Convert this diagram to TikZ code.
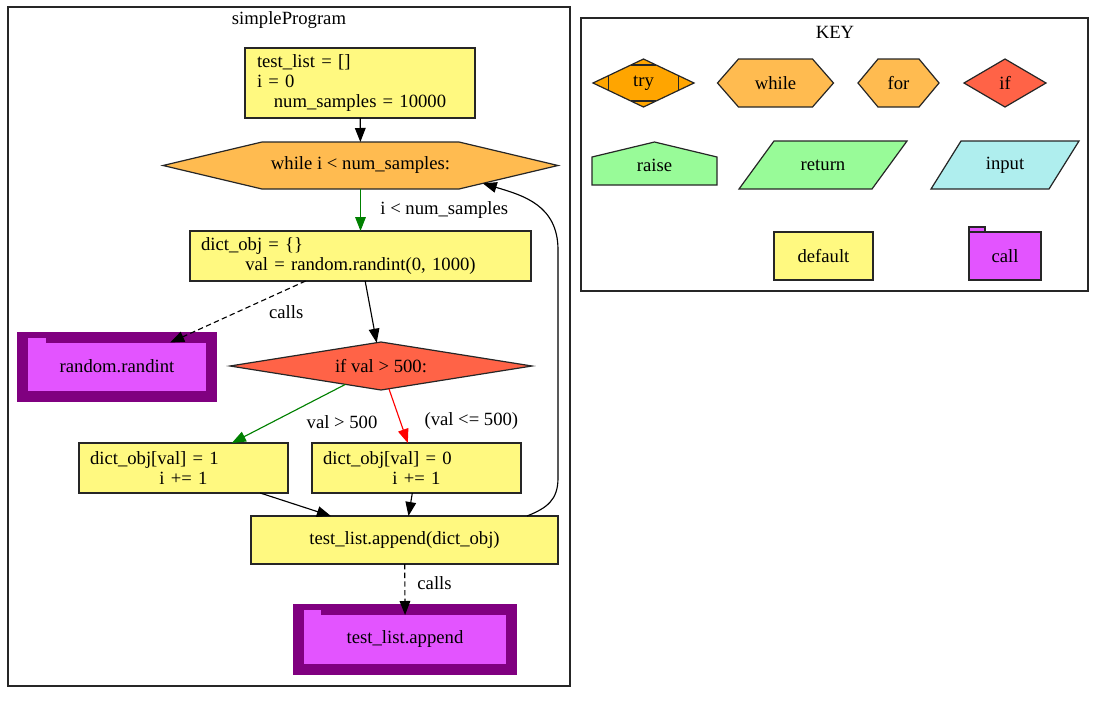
\documentclass[tikz,border=0pt]{standalone}
\usepackage{fontspec}
\setmainfont{Liberation Serif}
\usetikzlibrary{shapes.geometric,arrows.meta,calc,backgrounds}

\definecolor{codeyel}{HTML}{FFF980}
\definecolor{loopor}{HTML}{FFBB50}
\definecolor{tryor}{HTML}{FFA500}
\definecolor{ifred}{HTML}{FF6347}
\definecolor{raisegr}{HTML}{98FB98}
\definecolor{inputbl}{HTML}{AFEEEE}
\definecolor{callmag}{HTML}{E354FF}
\definecolor{callpur}{HTML}{800080}
\definecolor{egreen}{HTML}{008000}
\definecolor{ered}{HTML}{FF0000}

% hexagon drawn behind a plain node: node, inset, fill
\newcommand\hexshape[3]{%
  \begin{scope}[on background layer]
    \filldraw[fill=#3, shapeline] (#1.west) -- ($(#1.north west)+(#2,0)$)
      -- ($(#1.north east)+(-#2,0)$) -- (#1.east)
      -- ($(#1.south east)+(-#2,0)$) coordinate (#1-se)
      -- ($(#1.south west)+(#2,0)$) -- cycle;
  \end{scope}}
% parallelogram behind a plain node: node, slant, fill
\newcommand\parashape[3]{%
  \begin{scope}[on background layer]
    \filldraw[fill=#3, shapeline] (#1.south west) -- ($(#1.north west)+(#2,0)$)
      -- (#1.north east) -- ($(#1.south east)+(-#2,0)$) -- cycle;
  \end{scope}}
% house shape behind a plain node: node, shoulder drop, fill
\newcommand\houseshape[3]{%
  \begin{scope}[on background layer]
    \filldraw[fill=#3, shapeline] (#1.south west) -- ($(#1.north west)+(0,#2)$)
      -- (#1.north) -- ($(#1.north east)+(0,#2)$) -- (#1.south east) -- cycle;
  \end{scope}}

\begin{document}
\begin{tikzpicture}[x=0.75pt,y=-0.75pt,
  every node/.style={font=\fontsize{14pt}{15pt}\selectfont},
  shapeline/.style={draw=black!85, line width=0.9pt},
  plain/.style={rectangle, inner sep=0pt, outer sep=0pt},
  box/.style={rectangle, shapeline, fill=codeyel, inner sep=0pt, outer sep=0pt},
  dmd/.style={diamond, shapeline, inner sep=0pt, outer sep=0pt, aspect=6},
  callbig/.style={rectangle, fill=callmag, draw=callpur, line width=8.25pt,
    outer sep=-4.125pt, inner sep=0pt},
  cluster/.style={draw=black!85, line width=0.9pt},
  arr/.style={line width=0.85pt, -{Triangle[length=10.5pt,width=8pt]}},
  dsh/.style={dash pattern=on 4pt off 2.5pt},
  lbl/.style={inner sep=0pt, text=black},
]
\useasboundingbox (0,0) rectangle (1106,700);

% ---- program cluster ----
\draw[cluster] (8,7) rectangle (570,686);
\node[plain] (tprog) at (289,20) {simpleProgram};

\node[box, minimum width=172.5pt, minimum height=52.5pt, text width=154.5pt, align=left]
  (n1) at (360,83) {test\_list = []\\i = 0\\\makebox[\linewidth]{num\_samples = 10000}};

\node[plain, minimum width=296.25pt, minimum height=35.25pt] (wh) at (360.5,165.5) {while i < num\_samples:};
\hexshape{wh}{99}{loopor}

\node[box, minimum width=255.75pt, minimum height=37.5pt, text width=239.25pt, align=left]
  (dict) at (360.5,256) {dict\_obj = \{\}\\\makebox[\linewidth]{val = random.randint(0, 1000)}};

\node[callbig, minimum width=141.75pt, minimum height=44.6pt] (rnd) at (117,366.75) {};
\fill[callmag] ($(rnd.north west)+(0,-5)$) rectangle ($(rnd.north west)+(18,0.5)$);
\node[plain] (rndt) at (117,366) {random.randint};

\node[dmd, fill=ifred, minimum width=226.5pt, minimum height=36pt] (ifn) at (381,366) {if val > 500:};

\node[box, minimum width=156.75pt, minimum height=37.5pt, text width=140.25pt, align=left]
  (lb) at (183.5,468) {dict\_obj[val] = 1\\\makebox[\linewidth]{i += 1}};
\node[box, minimum width=156.75pt, minimum height=37.5pt, text width=140.25pt, align=left]
  (rb) at (416.5,468) {dict\_obj[val] = 0\\\makebox[\linewidth]{i += 1}};

\node[box, minimum width=230.25pt, minimum height=36pt] (ap) at (404.5,540) {test\_list.append(dict\_obj)};

\node[callbig, minimum width=159.4pt, minimum height=45pt] (apc) at (405.25,639.5) {};
\fill[callmag] ($(apc.north west)+(0,-5)$) rectangle ($(apc.north west)+(17,0.5)$);
\node[plain] (apct) at (405,639) {test\_list.append};

% ---- program connectors ----
\draw[arr] (n1) -- (wh);
\draw[arr, egreen] (wh) -- node[lbl, midway, right=14.5pt] {i < num\_samples} (dict);
\draw[arr, dsh] (dict) -- node[lbl, midway, right=23pt] {calls} (rnd);
\draw[arr] (dict) -- (ifn);
\draw[arr, egreen] (ifn) -- node[lbl, midway, xshift=40pt, yshift=-6.4pt] {val > 500} (lb);
\draw[arr, ered] (ifn) -- node[lbl, midway, xshift=54.75pt, yshift=-4pt] {(val <= 500)} (rb);
\draw[arr] (lb) -- (ap);
\draw[arr] (rb) -- (ap);
\draw[arr, dsh] (ap) -- node[lbl, midway, right=9pt, yshift=5pt] {calls} (apc);
\draw[arr] ($(ap.north east)+(-31,0)$) .. controls +(20,-8) and +(0,22) .. (558,478)
  -- (558,250) .. controls +(0,-45) and +(40,12) .. ($(wh.east)!0.76!(wh-se)$);

% ---- key cluster ----
\draw[cluster] (581,18) rectangle (1088,291);
\node[plain] (tkey) at (835,32) {KEY};

\node[dmd, fill=tryor, minimum width=75.75pt, minimum height=36pt, aspect=2] (ktry) at (643.5,83) {try};
\draw[shapeline] ($(ktry.west)!0.3!(ktry.north)$) -- ($(ktry.west)!0.3!(ktry.south)$);
\draw[shapeline] ($(ktry.east)!0.3!(ktry.north)$) -- ($(ktry.east)!0.3!(ktry.south)$);
\draw[shapeline] ($(ktry.north)!0.25!(ktry.west)$) -- ($(ktry.north)!0.25!(ktry.east)$);
\draw[shapeline] ($(ktry.south)!0.25!(ktry.west)$) -- ($(ktry.south)!0.25!(ktry.east)$);

\node[plain, minimum width=87pt, minimum height=36pt] (kwhile) at (775.5,83) {while};
\hexshape{kwhile}{21}{loopor}
\node[plain, minimum width=60.75pt, minimum height=36pt] (kfor) at (898.5,83) {for};
\hexshape{kfor}{20}{loopor}
\node[dmd, fill=ifred, minimum width=61.5pt, minimum height=36pt, aspect=2] (kif) at (1005,83) {if};

\node[plain, minimum width=93.75pt, minimum height=32.25pt] (kraise) at (654.5,163.5) {};
\houseshape{kraise}{15}{raisegr}
\node[plain] (kraiset) at (654.5,165) {raise};
\node[plain, minimum width=126pt, minimum height=36pt] (kret) at (823,165) {return};
\parashape{kret}{35}{raisegr}
\node[plain, minimum width=111pt, minimum height=36pt] (kin) at (1005,165) {input};
\parashape{kin}{30}{inputbl}

\node[box, minimum width=74.25pt, minimum height=36pt] (kdef) at (823.5,256) {default};
\node[box, fill=callmag, minimum width=54pt, minimum height=36pt] (kcall) at (1005,256) {call};
\filldraw[fill=callmag, shapeline] (kcall.north west) rectangle ($(kcall.north west)+(16,-5)$);
\end{tikzpicture}
\end{document}
